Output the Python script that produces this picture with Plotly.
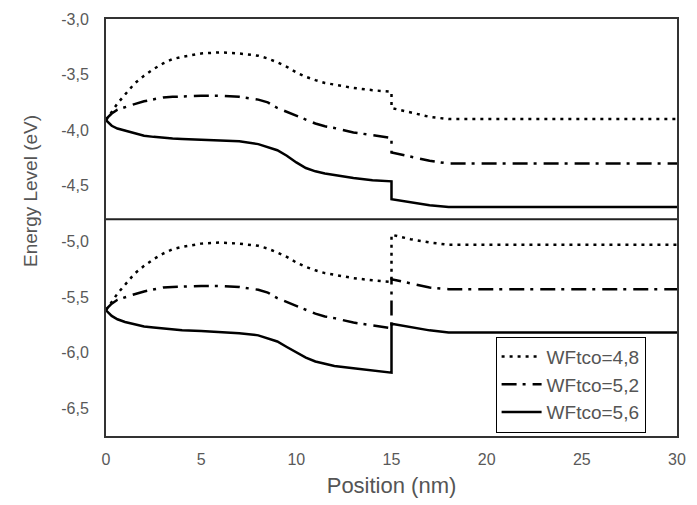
import plotly.graph_objects as go

# ---------------- data ----------------
x_pos = [0, 0.3, 0.6, 1, 1.5, 2, 2.5, 3, 3.5, 4, 5, 6, 7, 8, 8.5, 9, 9.5, 10, 10.5,
         11, 11.5, 12, 13, 14, 15, 15, 16, 17, 18, 20, 25, 30]

# upper band (conduction)
cb_48 = [-3.91, -3.83, -3.76, -3.68, -3.58, -3.51, -3.45, -3.40, -3.36, -3.34, -3.31, -3.30,
         -3.31, -3.33, -3.355, -3.39, -3.43, -3.48, -3.52, -3.55, -3.575, -3.59, -3.62, -3.64,
         -3.655, -3.80, -3.84, -3.88, -3.90, -3.90, -3.90, -3.90]
cb_52 = [-3.90, -3.85, -3.815, -3.79, -3.765, -3.74, -3.72, -3.705, -3.70, -3.695, -3.69, -3.69,
         -3.70, -3.725, -3.75, -3.80, -3.835, -3.875, -3.91, -3.94, -3.965, -3.98, -4.02, -4.045,
         -4.07, -4.20, -4.24, -4.275, -4.30, -4.30, -4.30, -4.30]
cb_56 = [-3.91, -3.96, -3.985, -4.005, -4.03, -4.05, -4.06, -4.07, -4.075, -4.08, -4.085, -4.09,
         -4.10, -4.125, -4.15, -4.18, -4.23, -4.29, -4.34, -4.37, -4.39, -4.405, -4.43, -4.45,
         -4.46, -4.62, -4.65, -4.675, -4.69, -4.69, -4.69, -4.69]

# lower band (valence)
vb_48 = [-5.62, -5.54, -5.47, -5.39, -5.29, -5.22, -5.16, -5.11, -5.07, -5.05, -5.02, -5.01,
         -5.02, -5.04, -5.065, -5.10, -5.14, -5.19, -5.23, -5.26, -5.285, -5.30, -5.33, -5.35,
         -5.365, -4.94, -4.98, -5.01, -5.03, -5.03, -5.03, -5.03]
vb_52 = [-5.61, -5.56, -5.525, -5.50, -5.475, -5.45, -5.43, -5.415, -5.41, -5.405, -5.40, -5.40,
         -5.41, -5.435, -5.46, -5.51, -5.545, -5.585, -5.62, -5.65, -5.675, -5.69, -5.73, -5.755,
         -5.78, -5.34, -5.38, -5.415, -5.43, -5.43, -5.43, -5.43]
vb_56 = [-5.62, -5.67, -5.70, -5.725, -5.745, -5.765, -5.775, -5.785, -5.79, -5.80, -5.805, -5.815,
         -5.825, -5.845, -5.87, -5.90, -5.95, -6.00, -6.045, -6.08, -6.10, -6.12, -6.14, -6.16,
         -6.18, -5.74, -5.77, -5.80, -5.82, -5.82, -5.82, -5.82]

separator_x = [0, 30]
separator_y = [-4.8, -4.8]

series_names = ["WFtco=4,8", "WFtco=5,2", "WFtco=5,6"]

y_tickvals = [-3.0, -3.5, -4.0, -4.5, -5.0, -5.5, -6.0, -6.5]
y_ticktext = ["-3,0", "-3,5", "-4,0", "-4,5", "-5,0", "-5,5", "-6,0", "-6,5"]
x_tickvals = [0, 5, 10, 15, 20, 25, 30]
x_ticktext = ["0", "5", "10", "15", "20", "25", "30"]

# ---------------- figure ----------------
FONT = "Arial, Liberation Sans, sans-serif"
styles = [
    dict(color="black", width=2.5, dash="3px,5px"),
    dict(color="black", width=2.5, dash="15px,6px,3px,7px"),
    dict(color="black", width=2.5, dash="solid"),
]

fig = go.Figure()
for name, upper, lower, st in zip(series_names, [cb_48, cb_52, cb_56], [vb_48, vb_52, vb_56], styles):
    fig.add_trace(go.Scatter(x=x_pos, y=upper, mode="lines", name=name, legendgroup=name,
                             line=st, showlegend=True))
    fig.add_trace(go.Scatter(x=x_pos, y=lower, mode="lines", name=name, legendgroup=name,
                             line=st, showlegend=False))

fig.add_trace(go.Scatter(x=separator_x, y=separator_y, mode="lines",
                         line=dict(color="#222", width=2), showlegend=False, hoverinfo="skip"))

fig.update_layout(
    width=697, height=505,
    margin=dict(l=106, r=11, t=17, b=63),
    paper_bgcolor="white", plot_bgcolor="white",
    font=dict(family=FONT, color="#595959"),
    showlegend=True,
    legend=dict(x=0.945, y=0.008, xanchor="right", yanchor="bottom",
                bgcolor="white", bordercolor="black", borderwidth=1,
                font=dict(family=FONT, size=19, color="#555"),
                tracegroupgap=0, itemwidth=40),
    annotations=[dict(text="Energy Level (eV)", textangle=-90, showarrow=False,
                      xref="paper", yref="paper", x=-0.131, y=0.588,
                      xanchor="center", yanchor="middle",
                      font=dict(family=FONT, size=19, color="#555"))],
)
fig.update_xaxes(range=[0, 30], tickvals=x_tickvals, ticktext=x_ticktext,
                 showgrid=False, zeroline=False, showline=True, mirror=True,
                 linecolor="#333", linewidth=2, ticks="",
                 tickfont=dict(size=16, color="#595959"), ticklabelstandoff=8,
                 title=dict(text="Position (nm)", font=dict(size=22, color="#555"), standoff=10))
fig.update_yaxes(range=[-6.75, -3.0], tickvals=y_tickvals, ticktext=y_ticktext,
                 showgrid=False, zeroline=False, showline=True, mirror=True,
                 linecolor="#333", linewidth=2, ticks="",
                 tickfont=dict(size=16, color="#595959"), ticklabelstandoff=12)

fig.write_html("out.html", config={"displayModeBar": False},
               post_script="document.body.style.margin='0';")
